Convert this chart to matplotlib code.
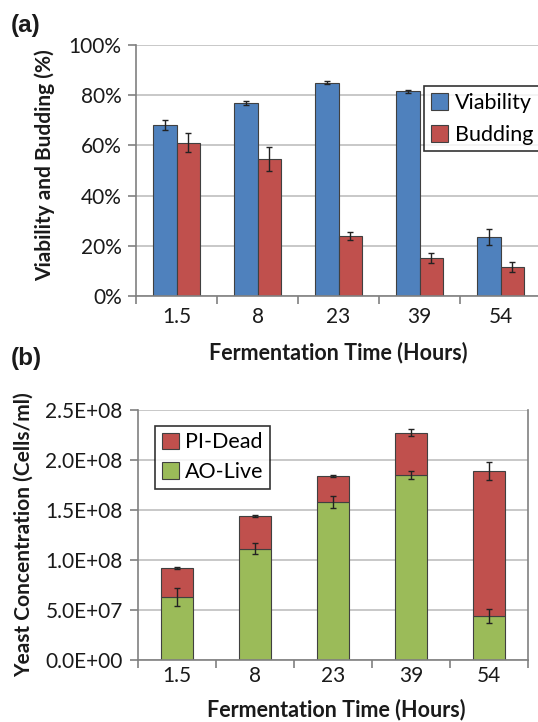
import matplotlib.pyplot as plt
import numpy as np

plt.rcParams["font.family"] = ["Lato", "DejaVu Sans"]

# --- data ------------------------------------------------------------------
hours = ["1.5", "8", "23", "39", "54"]

viability = [68.0, 77.0, 85.0, 81.5, 23.5]
viability_err = [2.0, 0.7, 0.5, 0.5, 3.3]
budding = [61.0, 54.5, 24.0, 15.0, 11.5]
budding_err = [3.8, 4.8, 1.5, 2.0, 2.0]

ao_live = [6.3e7, 1.11e8, 1.575e8, 1.845e8, 4.4e7]
ao_live_err = [9e6, 5.5e6, 6e6, 4e6, 7e6]
total_conc = [9.2e7, 1.44e8, 1.84e8, 2.27e8, 1.89e8]
total_err = [0.8e6, 0.6e6, 1.0e6, 3.5e6, 9e6]
pi_dead = [t - a for t, a in zip(total_conc, ao_live)]

BLUE = "#4F81BD"
RED = "#C0504D"
GREEN = "#9BBB59"
EDGE = "#404040"
GRID = "#BFBFBF"
AXIS = "#808080"
TEXT = "#1A1A1A"


def style_axes(ax, right_spine, xpad, ypad):
    ax.spines["top"].set_visible(False)
    ax.spines["right"].set_visible(right_spine)
    for s in ("left", "bottom", "right"):
        ax.spines[s].set_color(AXIS)
        ax.spines[s].set_linewidth(1.2)
    ax.yaxis.grid(True, color=GRID, linewidth=1.2)
    ax.set_axisbelow(True)
    n = len(hours)
    ax.set_xlim(-0.5, n - 0.5)
    # major ticks sit between categories, labels on minor ticks at the centres
    ax.set_xticks(np.arange(n + 1) - 0.5)
    ax.set_xticklabels([])
    ax.set_xticks(np.arange(n), minor=True)
    ax.set_xticklabels(hours, minor=True, fontsize=15, color=TEXT)
    ax.tick_params(axis="x", which="major", length=6, width=1.2, color=AXIS, direction="out")
    ax.tick_params(axis="x", which="minor", length=0, pad=xpad)
    ax.tick_params(axis="y", length=6, width=1.2, color=AXIS, labelsize=15,
                   labelcolor=TEXT, pad=ypad)


fig = plt.figure(figsize=(5.38, 7.22), dpi=100)
label_kw = dict(fontsize=15.5, fontweight="bold", color=TEXT)

# --- (a) viability and budding --------------------------------------------
ax1 = fig.add_axes([0.2528, 0.590, 0.7528, 0.3476])
x = np.arange(len(hours))
w = 0.29
err_kw = dict(ecolor="#222222", elinewidth=1.0, capsize=2.5, capthick=1.0)
ax1.bar(x - w / 2, viability, w, yerr=viability_err, color=BLUE, edgecolor=EDGE,
        linewidth=0.8, label="Viability", error_kw=err_kw)
ax1.bar(x + w / 2, budding, w, yerr=budding_err, color=RED, edgecolor=EDGE,
        linewidth=0.8, label="Budding", error_kw=err_kw)
ax1.set_ylim(0, 100)
ax1.set_yticks(np.arange(0, 101, 20))
ax1.set_yticklabels([f"{v}%" for v in range(0, 101, 20)])
style_axes(ax1, right_spine=False, xpad=8, ypad=4.3)
ax1.set_ylabel("Viability and Budding (%)", fontsize=15, fontweight="bold", color=TEXT)
ax1.yaxis.set_label_coords(-0.2, 0.52)
ax1.set_xlabel("Fermentation Time (Hours)", **label_kw)
ax1.xaxis.set_label_coords(0.499, -0.18)
leg1 = ax1.legend(loc="upper left", bbox_to_anchor=(0.712, 0.835), fontsize=15.5,
                  frameon=True, fancybox=False, edgecolor="black", handlelength=0.8,
                  handleheight=0.8, handletextpad=0.3, borderpad=0.3, labelspacing=0.55,
                  borderaxespad=0)
leg1.get_frame().set_linewidth(1.2)

# --- (b) yeast concentration ----------------------------------------------
ax2 = fig.add_axes([0.2565, 0.0859, 0.725, 0.3463])
w2 = 0.41
ax2.bar(x, ao_live, w2, color=GREEN, edgecolor=EDGE, linewidth=0.8, label="AO-Live")
ax2.bar(x, pi_dead, w2, bottom=ao_live, color=RED, edgecolor=EDGE, linewidth=0.8,
        label="PI-Dead")
ax2.errorbar(x, ao_live, yerr=ao_live_err, fmt="none", **err_kw)
ax2.errorbar(x, total_conc, yerr=total_err, fmt="none", **err_kw)
ax2.set_ylim(0, 2.5e8)
ticks = np.arange(0, 2.51e8, 5e7)
ax2.set_yticks(ticks)
ax2.set_yticklabels([f"{t:.1E}" for t in ticks])
style_axes(ax2, right_spine=True, xpad=4.5, ypad=5)
ax2.set_ylabel("Yeast Concentration (Cells/ml)", fontsize=15, fontweight="bold", color=TEXT)
ax2.yaxis.set_label_coords(-0.267, 0.5)
ax2.set_xlabel("Fermentation Time (Hours)", **label_kw)
ax2.xaxis.set_label_coords(0.508, -0.155)
handles, labels = ax2.get_legend_handles_labels()
leg2 = ax2.legend(handles[::-1], labels[::-1], loc="upper left",
                  bbox_to_anchor=(0.044, 0.936), fontsize=15.5, frameon=True,
                  fancybox=False, edgecolor="black", handlelength=0.8, handleheight=0.8,
                  handletextpad=0.3, borderpad=0.3, labelspacing=0.45, borderaxespad=0)
leg2.get_frame().set_linewidth(1.2)

panel_kw = dict(fontsize=17.5, fontweight="bold", va="center", ha="left",
                family=["Liberation Sans", "DejaVu Sans"], color=TEXT)
fig.text(0.020, 0.964, "(a)", **panel_kw)
fig.text(0.020, 0.5035, "(b)", **panel_kw)

fig.savefig("out.png", dpi=100)
